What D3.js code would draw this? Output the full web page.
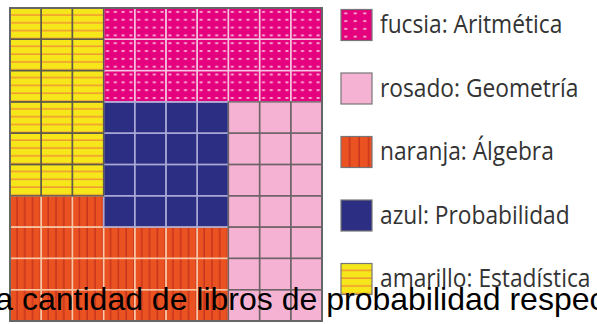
<!DOCTYPE html>
<html>
<head>
<meta charset="utf-8">
<script src="https://cdn.jsdelivr.net/npm/d3@7"></script>
<style>
  html, body { margin: 0; padding: 0; background: #fff; }
  svg { display: block; }
</style>
</head>
<body>
<script>
// Subjects of the 100 books, one letter per square of the 10 x 10 grid.
const layout = [
  "EEEAAAAAAA",
  "EEEAAAAAAA",
  "EEEAAAAAAA",
  "EEEPPPPGGG",
  "EEEPPPPGGG",
  "EEEPPPPGGG",
  "LLLPPPPGGG",
  "LLLLLLLGGG",
  "LLLLLLLGGG",
  "LLLLLLLGGG"
];
const categoryKeys = ["A", "G", "L", "P", "E"];
const categoryLabels = [
  "fucsia: Aritmética",
  "rosado: Geometría",
  "naranja: Álgebra",
  "azul: Probabilidad",
  "amarillo: Estadística"
];
const caption = "La cantidad de libros de probabilidad respecto al total";

const W = 597, H = 324;
const svg = d3.select("body").append("svg").attr("width", W).attr("height", H);
const defs = svg.append("defs");

const idx = d3.range(10);
const x = d3.scaleBand().domain(idx).range([10, 322]).padding(0);
const y = d3.scaleBand().domain(idx).range([8, 321]).padding(0);
const cw = x.bandwidth(), ch = y.bandwidth();

const style = {
  A: { fill: "#E5007D", line: "#F6C4DE" },
  G: { fill: "#F6B2D3", line: "#6E6468" },
  L: { fill: "#EB5221", line: "#F7C7A6" },
  P: { fill: "#2B2E83", line: "#A9A9D6" },
  E: { fill: "#F6E71B", line: "#5E5A4A" }
};

// Fill patterns: dotted fuchsia, striped orange and yellow
function makePatterns(suffix, ox, oy, w, h) {
  const pA = defs.append("pattern").attr("id", "pA" + suffix)
    .attr("patternUnits", "userSpaceOnUse")
    .attr("x", ox).attr("y", oy).attr("width", w / 4).attr("height", h / 4);
  pA.append("rect").attr("width", w / 4).attr("height", h / 4).attr("fill", style.A.fill);
  pA.append("rect").attr("x", w / 8 - 1.5).attr("y", h / 8 - 1).attr("width", 3).attr("height", 2)
    .attr("fill", "#F7A3CE");

  const pL = defs.append("pattern").attr("id", "pL" + suffix)
    .attr("patternUnits", "userSpaceOnUse")
    .attr("x", ox).attr("y", oy).attr("width", w / 4).attr("height", h);
  pL.append("rect").attr("width", w / 4).attr("height", h).attr("fill", style.L.fill);
  pL.append("rect").attr("x", w / 4 - 1.6).attr("width", 1.6).attr("height", h).attr("fill", "#C9361F");

  const pE = defs.append("pattern").attr("id", "pE" + suffix)
    .attr("patternUnits", "userSpaceOnUse")
    .attr("x", ox).attr("y", oy).attr("width", w).attr("height", h / 4);
  pE.append("rect").attr("width", w).attr("height", h / 4).attr("fill", style.E.fill);
  pE.append("rect").attr("y", h / 4 - 1.6).attr("width", w).attr("height", 1.6).attr("fill", "#F19B31");
}
makePatterns("", x(0), y(0), cw, ch);

function fillFor(k, suffix) {
  if (k === "A" || k === "L" || k === "E") return `url(#p${k}${suffix})`;
  return style[k].fill;
}

const cells = [];
layout.forEach((row, r) => row.split("").forEach((k, c) => cells.push({ r, c, k })));

// light-lined blocks first, dark-lined blocks on top
const order = { A: 0, L: 1, P: 2, G: 3, E: 4 };
cells.sort((a, b) => order[a.k] - order[b.k]);

const g = svg.append("g");
g.selectAll("rect.fill").data(cells).join("rect")
  .attr("class", "fill")
  .attr("x", d => x(d.c)).attr("y", d => y(d.r))
  .attr("width", cw).attr("height", ch)
  .attr("fill", d => fillFor(d.k, ""));

g.selectAll("rect.line").data(cells).join("rect")
  .attr("class", "line")
  .attr("x", d => x(d.c)).attr("y", d => y(d.r))
  .attr("width", cw).attr("height", ch)
  .attr("fill", "none")
  .attr("stroke", d => style[d.k].line)
  .attr("stroke-width", 1.4);

// outer frame
g.append("rect")
  .attr("x", x(0)).attr("y", y(0))
  .attr("width", x.range()[1] - x.range()[0]).attr("height", y.range()[1] - y.range()[0])
  .attr("fill", "none").attr("stroke", "#666").attr("stroke-width", 2);

// Legend
const sw = 31;
const ly = d3.scalePoint().domain(categoryKeys).range([25, 279]);
const legend = svg.append("g");
categoryKeys.forEach((k, i) => {
  const cy = ly(k);
  makePatterns("_" + k, 341, cy - sw / 2, sw + 7, sw);
  legend.append("rect")
    .attr("x", 341).attr("y", cy - sw / 2).attr("width", sw).attr("height", sw)
    .attr("fill", fillFor(k, "_" + k))
    .attr("stroke", "#767676").attr("stroke-width", 1.2);
  legend.append("text")
    .attr("transform", `translate(380,${cy + 8}) scale(0.91,1)`)
    .attr("font-family", "'Open Sans', sans-serif")
    .attr("font-size", 25)
    .attr("fill", "#333")
    .text(categoryLabels[i]);
});

// Caption line lying across the bottom
svg.append("text")
  .attr("x", -22.5).attr("y", 310)
  .attr("font-family", "'Liberation Sans', Arial, sans-serif")
  .attr("font-size", 32)
  .attr("fill", "#000")
  .text(caption);
</script>
</body>
</html>
